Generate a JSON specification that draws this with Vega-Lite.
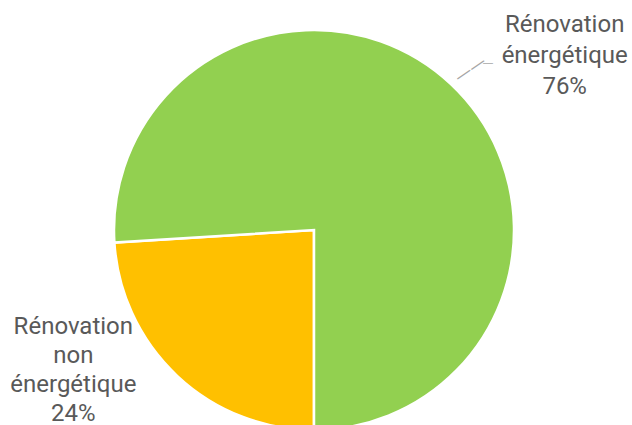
{
  "$schema": "https://vega.github.io/schema/vega-lite/v6.json",
  "width": 628,
  "height": 460,
  "padding": 0,
  "autosize": {"type": "none"},
  "background": "white",
  "config": {"view": {"stroke": null}},
  "data": {"values": [
    {"categorie": "Rénovation non énergétique", "part": 24, "ordre": 1, "label": "Rénovation\nnon\nénergétique\n24%"},
    {"categorie": "Rénovation énergétique", "part": 76, "ordre": 2, "label": "Rénovation\nénergétique\n76%"}
  ]},
  "encoding": {
    "theta": {"field": "part", "type": "quantitative", "stack": true, "scale": {"range": [3.14159265, 9.42477796]}},
    "order": {"field": "ordre", "type": "quantitative"}
  },
  "layer": [
    {
      "mark": {"type": "arc", "radius": 200, "stroke": "white", "strokeWidth": 2.5},
      "encoding": {
        "color": {"field": "categorie", "type": "nominal", "legend": null,
          "scale": {"domain": ["Rénovation non énergétique", "Rénovation énergétique"], "range": ["#FFC000", "#92D050"]}}
      }
    },
    {
      "mark": {"type": "text", "radius": 280, "dx": 59, "dy": -1, "font": "Roboto", "fontSize": 24, "color": "#595959", "align": "center", "baseline": "middle", "lineHeight": 31, "lineBreak": "\n"},
      "encoding": {"text": {"condition": {"test": "datum.ordre == 2", "field": "label"}, "value": ""}}
    },
    {
      "mark": {"type": "text", "radius": 280, "dx": -49, "dy": -107, "font": "Roboto", "fontSize": 24, "color": "#595959", "align": "center", "baseline": "middle", "lineHeight": 29, "lineBreak": "\n"},
      "encoding": {"text": {"condition": {"test": "datum.ordre == 1", "field": "label"}, "value": ""}}
    },
    {
      "mark": {"type": "text", "radius": 221, "dx": 4, "dy": 3.5, "angle": -34, "font": "DejaVu Sans", "fontSize": 17, "color": "#A6A6A6", "align": "center", "baseline": "middle"},
      "encoding": {"text": {"condition": {"test": "datum.ordre == 2", "value": "——"}, "value": ""}}
    },
    {
      "mark": {"type": "text", "radius": 221, "dx": 22.6, "dy": -6, "font": "DejaVu Sans", "fontSize": 11, "color": "#A6A6A6", "align": "center", "baseline": "middle"},
      "encoding": {"text": {"condition": {"test": "datum.ordre == 2", "value": "—"}, "value": ""}}
    }
  ]
}
